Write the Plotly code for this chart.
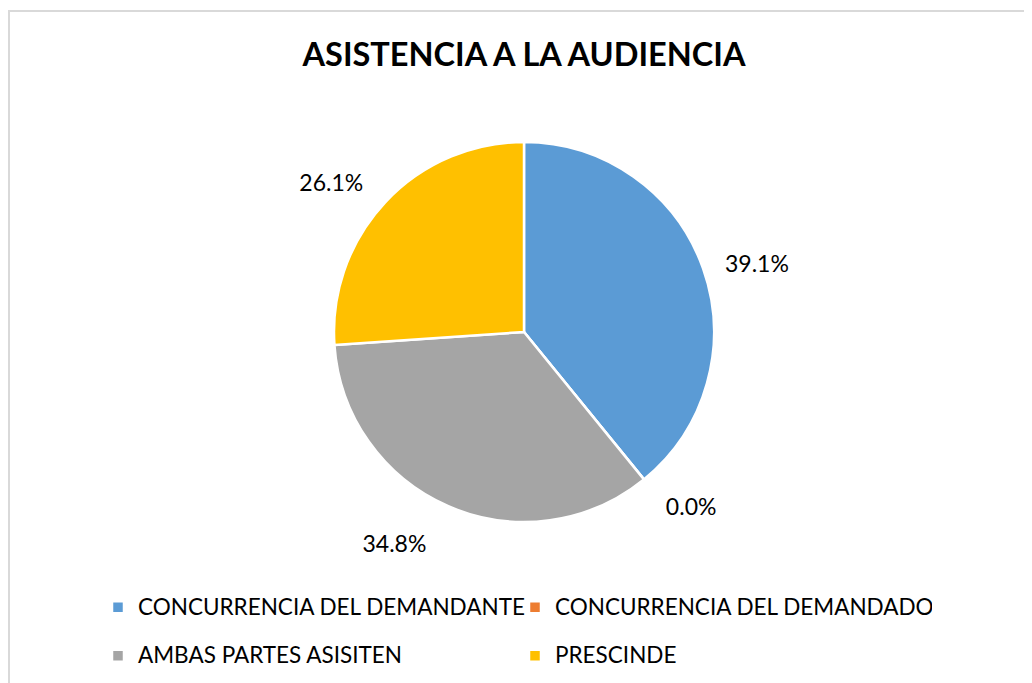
import plotly.graph_objects as go

labels = ["CONCURRENCIA DEL DEMANDANTE", "CONCURRENCIA DEL DEMANDADO",
          "AMBAS PARTES ASISITEN", "PRESCINDE"]
values = [9, 0, 8, 6]
colors = ["#5B9BD5", "#ED7D31", "#A5A5A5", "#FFC000"]
title_text = "ASISTENCIA A LA AUDIENCIA"

W, H = 1032, 683
OFF = 8  # page body margin
cx, cy, r = 524 - OFF, 332 - OFF, 190

legend_labels = ["<span style='font-size:22.5px;baseline-shift:6px'>%s</span>" % l for l in labels]

NB = "\u00a0"
# blank lines above/below push Excel-like outside labels further from the pie
label_tmpl = NB + "<br>" + "%{percent:.1%}" + "<br>" + NB

fig = go.Figure(go.Pie(
    labels=legend_labels, values=values, sort=False, direction="clockwise", rotation=0,
    marker=dict(colors=colors, line=dict(color="white", width=2.5)),
    texttemplate=label_tmpl, textposition="outside",
    textfont=dict(family="Lato", size=23, color="#000000"),
    domain=dict(x=[(cx - r) / W, (cx + r) / W], y=[1 - (cy + r) / H, 1 - (cy - r) / H]),
    showlegend=True, hoverinfo="percent",
))

fig.update_layout(
    width=W, height=H, margin=dict(l=0, r=0, t=0, b=0),
    paper_bgcolor="white", plot_bgcolor="white",
    title=dict(text="<b>" + title_text + "</b>", x=(524 - OFF) / W, xanchor="center",
               y=1 - (55 - OFF) / H, yanchor="middle",
               font=dict(family="Lato", size=32.5, color="#000000")),
    legend=dict(orientation="h", x=(98 - OFF) / W, y=1 - (578 - OFF) / H,
                xanchor="left", yanchor="top",
                entrywidth=372, entrywidthmode="pixels", tracegroupgap=0,
                font=dict(family="Lato", size=35, color="#000000"), itemclick=False),
    shapes=[dict(type="rect", xref="paper", yref="paper", x0=1 / W, x1=1.2,
                 y0=-0.2, y1=1 - 3 / H, line=dict(color="#D9D9D9", width=2),
                 fillcolor="rgba(0,0,0,0)")],
)

fig.write_html("out.html")
